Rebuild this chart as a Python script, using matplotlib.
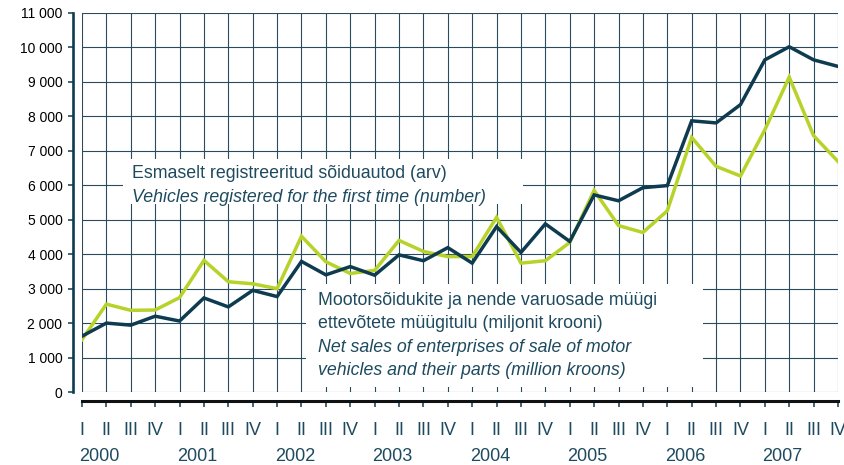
import matplotlib
matplotlib.use("Agg")
import matplotlib.pyplot as plt
from matplotlib.patches import Rectangle
from matplotlib.transforms import blended_transform_factory

# quarterly data, 2000 Q1 .. 2007 Q4
years = ["2000", "2001", "2002", "2003", "2004", "2005", "2006", "2007"]
quarters = ["I", "II", "III", "IV"]

# vehicles registered for the first time (number)
vehicles = [1620, 2000, 1940, 2200, 2060, 2730, 2470, 2950,
            2770, 3790, 3400, 3640, 3390, 3980, 3810, 4190,
            3740, 4800, 4050, 4880, 4370, 5720, 5550, 5930,
            5990, 7870, 7810, 8340, 9640, 10020, 9640, 9450]

# net sales of enterprises of sale of motor vehicles (million kroons)
net_sales = [1520, 2550, 2370, 2380, 2740, 3820, 3200, 3140,
             3000, 4520, 3780, 3440, 3530, 4400, 4080, 3930,
             3930, 5070, 3740, 3810, 4340, 5850, 4830, 4630,
             5260, 7390, 6550, 6270, 7610, 9140, 7440, 6690]

yticks = list(range(0, 11001, 1000))
ytick_labels = ["{:,}".format(v).replace(",", " ") for v in yticks]

label_veh = ["Esmaselt registreeritud sõiduautod (arv)",
             "Vehicles registered for the first time (number)"]
label_sales = ["Mootorsõidukite ja nende varuosade müügi",
               "ettevõtete müügitulu (miljonit krooni)",
               "Net sales of enterprises of sale of motor",
               "vehicles and their parts (million kroons)"]

TEXT = "#1e4a5f"
DARK = "#0e3b50"
GREEN = "#b7d329"
GRID = "#2a4b5d"

plt.rcParams['font.family'] = ['Liberation Sans', 'DejaVu Sans']

W, H = 844, 465
fig = plt.figure(figsize=(W / 100, H / 100), dpi=100)
ax = fig.add_axes([82 / W, (H - 392) / H, 756 / W, 379 / H])


def fx(px):
    return px / W


def fy(py):
    return 1 - py / H


n = len(vehicles)
x = list(range(n))

ax.set_xlim(0, n - 1)
ax.set_ylim(0, 11000)
ax.set_axisbelow(True)
ax.set_xticks(x)
ax.set_yticks(yticks)
ax.set_yticklabels(ytick_labels, fontsize=12.8, color=TEXT)
ax.set_xticklabels([""] * n)
ax.grid(True, color=GRID, linewidth=0.8)
for gl in ax.get_xgridlines() + ax.get_ygridlines():
    gl.set_clip_on(False)

for side in ["top", "right"]:
    ax.spines[side].set_visible(False)
ax.spines["left"].set_position(("outward", 6.5))
ax.spines["left"].set_linewidth(1.9)
ax.spines["left"].set_color(DARK)
ax.spines["bottom"].set_position(("outward", 6.5))
ax.spines["bottom"].set_linewidth(2.2)
ax.spines["bottom"].set_color("#111111")
ax.tick_params(axis="y", direction="out", length=3.6, width=1.1,
               color=DARK, pad=4)
ax.tick_params(axis="x", direction="out", length=4.3, width=1.1,
               color=DARK)

ax.plot(x, net_sales, color=GREEN, linewidth=2.5, zorder=3,
        solid_joinstyle="miter")
ax.plot(x, vehicles, color=DARK, linewidth=2.5, zorder=4,
        solid_joinstyle="miter")

# white label boxes over the grid
for (x0, y0, x1, y1) in [(122.5, 159, 523, 204), (306, 284, 703, 387)]:
    r = Rectangle((fx(x0), fy(y1)), fx(x1) - fx(x0), fy(y0) - fy(y1),
                  transform=fig.transFigure, facecolor="white",
                  edgecolor="none", zorder=1.5, clip_on=False)
    ax.add_patch(r)

for i, (line, base) in enumerate(zip(label_veh, [178, 201.5])):
    ax.text(fx(132), fy(base), line, transform=fig.transFigure,
            fontsize=12.8, color=TEXT, va="baseline", zorder=2,
            style="italic" if i == 1 else "normal")

for i, (line, base) in enumerate(zip(label_sales, [305, 328.5, 352, 375])):
    ax.text(fx(318), fy(base), line, transform=fig.transFigure,
            fontsize=12.8, color=TEXT, va="baseline", zorder=2,
            style="italic" if i >= 2 else "normal")

# quarter and year labels under the axis
trans = blended_transform_factory(ax.transData, fig.transFigure)
for i in x:
    ax.text(i, fy(435), quarters[i % 4], transform=trans, ha="center",
            va="baseline", fontsize=13, color=TEXT, clip_on=False)
for k, yr in enumerate(years):
    ax.text(4 * k - 0.1, fy(461), yr, transform=trans, ha="left",
            va="baseline", fontsize=13, color=TEXT, clip_on=False)

fig.savefig("out.png", dpi=100)
